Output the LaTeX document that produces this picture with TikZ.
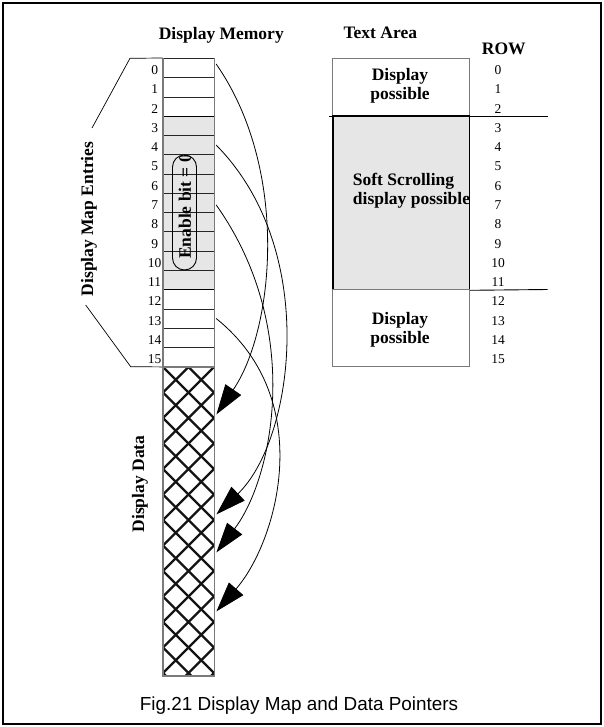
\documentclass[tikz,border=0pt]{standalone}
\usepackage{fontspec}
\setmainfont{Liberation Serif}
\newfontfamily\capfont{Liberation Sans}
\usetikzlibrary{arrows.meta}
\definecolor{memgray}{HTML}{E6E6E6}
\definecolor{edge}{HTML}{7A7A7A}
\tikzset{
  lbl/.style={font=\bfseries\fontsize{17.5}{19}\selectfont, inner sep=0pt, align=center},
  num/.style={font=\fontsize{13.5}{16}\selectfont, inner sep=0pt, anchor=base},
  cell/.style={draw=black!85, line width=0.6pt, minimum width=51.3pt, minimum height=19.27pt, inner sep=0pt},
  hatchline/.style={line width=2.3pt, color=black!92},
  ptr/.style={line width=0.8pt, -{Triangle[length=30pt,width=19pt]}},
  thinbox/.style={draw=edge, line width=0.9pt, inner sep=0pt},
}
\begin{document}
\begin{tikzpicture}[x=1pt,y=-1pt]
\useasboundingbox (0,0) rectangle (604,727);
\draw[line width=1.6pt] (3,3) rectangle (601,724);

% titles
\node[lbl, anchor=base] (tmem) at (221.3,40) {Display Memory};
\node[lbl, anchor=base] (ttext) at (380.3,39) {Text Area};
\node[lbl, anchor=base] (trow) at (503.8,55) {ROW};

% memory column
\fill[memgray] (163,116.1) rectangle (214.3,289.5);
\foreach \i in {0,...,15} {
  \node[cell] (m\i) at (188.65,{58.3+19.27*\i+9.635}) {};
  \node[num] (mn\i) at (154.7,{58.3+19.27*\i+16.3}) {\i};
}
\draw[black, line width=1pt] (163,116.1) rectangle (214.3,289.5);
\draw[edge, line width=1.6pt] (m0.north west) -- (m15.south west);
\draw[edge, line width=1.6pt] (m0.north east) -- (m15.south east);

% enable pill
\begin{scope}
  \clip[rounded corners=12pt] (172.5,155) rectangle (196.5,270);
  \node[lbl, rotate=90, anchor=west] (en) at (185,259) {Enable bit = 0};
\end{scope}
\node[draw, line width=0.9pt, rounded corners=12pt, minimum width=24pt, minimum height=115pt, inner sep=0pt] (pill) at (184.5,212.5) {};

% bracket
\coordinate (bt) at (130,58.3);
\coordinate (bb) at (130.7,366.7);
\draw[line width=0.7pt] (m0.north west) -- (bt) -- (92,128);
\draw[line width=0.7pt] (m15.south west) -- (bb) -- (85.7,305);
\node[lbl, rotate=90] (dme) at (89,219) {Display Map Entries};

% display data
\begin{scope}
  \clip (163,367) rectangle (214.3,676);
  \foreach \k in {-13,...,15} {
    \draw[hatchline] ({163+25.5*\k},367) -- ++(330,330);
    \draw[hatchline] ({163+25.5*\k},367) -- ++(-330,330);
  }
\end{scope}
\node[draw=edge, line width=1.2pt, minimum width=51.3pt, minimum height=309pt, inner sep=0pt] (data) at (188.65,521.5) {};
\node[lbl, rotate=90] (dd) at (140,484) {Display Data};

% pointers
\draw[ptr] ([xshift=1.5pt,yshift=4pt]m0.east) .. controls (290,170) and (274,330) .. ([xshift=1.5pt,yshift=-48pt]data.north east);
\draw[ptr] ([xshift=1.5pt]m4.east) .. controls (320,250) and (294,440) .. ([xshift=1.5pt,yshift=-148pt]data.north east);
\draw[ptr] ([xshift=1.5pt,yshift=-2pt]m7.east) .. controls (305,330) and (272,480) .. ([xshift=1.5pt,yshift=-186pt]data.north east);
\draw[ptr] ([xshift=1.5pt]m13.east) .. controls (318,400) and (277,542) .. ([xshift=1.5pt,yshift=-245pt]data.north east);

% text area
\node[thinbox, minimum width=136.6pt, minimum height=57.8pt] (tatop) at (401,87.2) {};
\node[draw=black, fill=memgray, line width=1.6pt, minimum width=136.6pt, minimum height=173.4pt, inner sep=0pt] (tamid) at (401,202.8) {};
\node[thinbox, minimum width=136.6pt, minimum height=77.2pt] (tabot) at (401,328.1) {};
\draw[line width=0.9pt] (329,116.1) -- (547.7,116.1);
\draw[line width=0.9pt] (tamid.south east) -- (547.7,289.5);

\node[lbl, anchor=base] (dp1) at (400,100) {Display\\possible};
\node[lbl, anchor=base west, align=left] (ss) at (352.7,205) {Soft Scrolling\\display possible};
\node[lbl, anchor=base] (dp2) at (400,343.3) {Display\\possible};

\foreach \i in {0,...,15} {
  \node[num] (rn\i) at (498,{58.3+19.27*\i+16.3}) {\i};
}

% caption
\node[font=\capfont\fontsize{18.9}{22}\selectfont, anchor=base, inner sep=0pt] (cap) at (299,710) {Fig.21 Display Map and Data Pointers};
\end{tikzpicture}
\end{document}
